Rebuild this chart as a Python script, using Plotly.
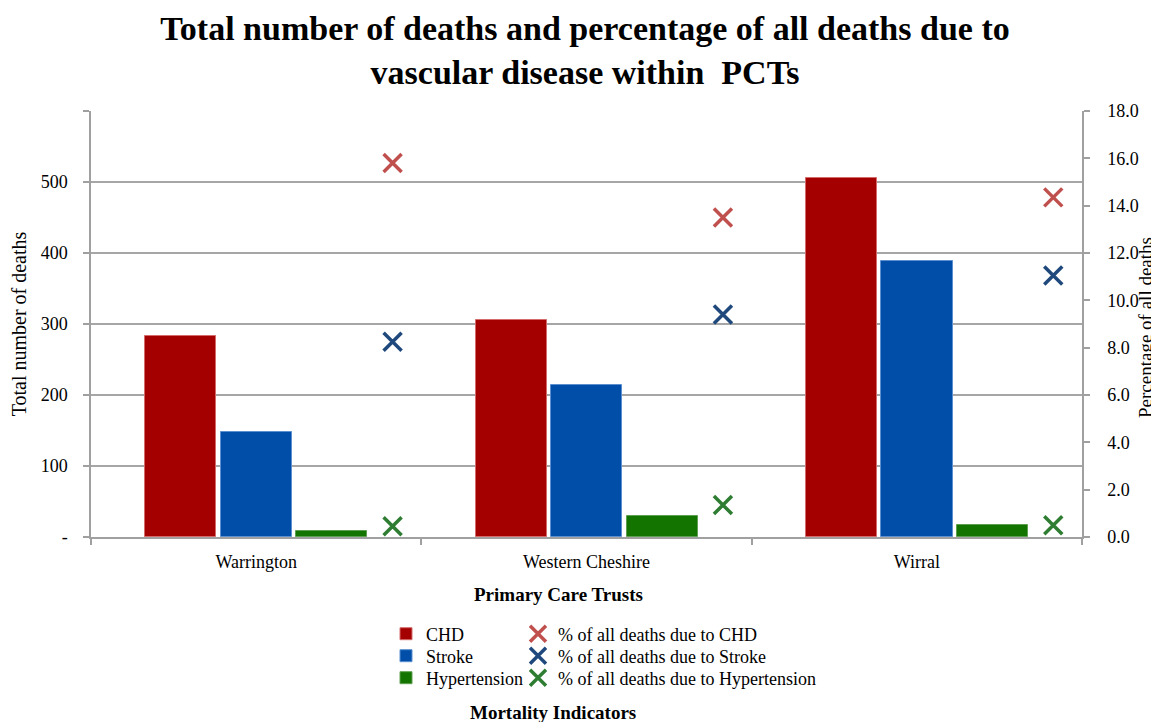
import plotly.graph_objects as go

categories = ["Warrington", "Western Cheshire", "Wirral"]
chd_deaths = [283, 306, 506]
stroke_deaths = [148, 214, 389]
hyp_deaths = [8, 30, 17]
chd_pct = [15.8, 13.5, 14.35]
stroke_pct = [8.25, 9.4, 11.05]
hyp_pct = [0.45, 1.35, 0.5]
left_ticks = [0, 100, 200, 300, 400, 500, 600]
left_tick_text = ["-", "100", "200", "300", "400", "500", ""]

FONT = "Liberation Serif, Times New Roman, serif"
OFF = 8  # default page body margin
W, H = 1159 - OFF, 722 - OFF
# plot area in page pixels: x 91..1082, y 111..537
L = 91 - OFF
T = 111 - OFF
R = W - (1082 - OFF)
B = H - (537 - OFF)
PW, PH = W - L - R, H - T - B
xpos = list(range(len(categories)))


def px_x(px):  # page px -> paper fraction
    return (px - OFF - L) / PW


def px_y(py):
    return (H - B - (py - OFF)) / PH


fig = go.Figure()
bar_specs = [
    ("CHD", chd_deaths, "#A50000", "#D46A6A", -0.336, "legend"),
    ("Stroke", stroke_deaths, "#004EA8", "#5B8FD0", -0.107, "legend2"),
    ("Hypertension", hyp_deaths, "#137500", "#5FA050", 0.122, "legend3"),
]
for name, vals, col, edge, off, lg in bar_specs:
    fig.add_trace(go.Bar(
        x=xpos, y=vals, name=name, width=0.215, offset=off,
        marker=dict(color=col, line=dict(color=edge, width=1)),
        legend=lg, yaxis="y",
    ))

pct_specs = [
    ("% of all deaths due to CHD", chd_pct, "#C0504D", "legend4"),
    ("% of all deaths due to Stroke", stroke_pct, "#1F497D", "legend5"),
    ("% of all deaths due to Hypertension", hyp_pct, "#2E7D32", "legend6"),
]
for name, vals, col, lg in pct_specs:
    fig.add_trace(go.Scatter(
        x=[p + 0.413 for p in xpos], y=vals, name=name, mode="markers",
        marker=dict(symbol="x-thin", size=18, color=col, line=dict(color=col, width=3.5)),
        yaxis="y2", legend=lg,
    ))

rows = [634, 656, 678]
legend_defs = {}
for i, key in enumerate(["legend", "legend2", "legend3"]):
    legend_defs[key] = dict(
        x=px_x(386), y=px_y(rows[i]), xanchor="left", yanchor="middle",
        bgcolor="rgba(0,0,0,0)", font=dict(family=FONT, size=18), itemwidth=30,
    )
for i, key in enumerate(["legend4", "legend5", "legend6"]):
    legend_defs[key] = dict(
        x=px_x(518), y=px_y(rows[i]), xanchor="left", yanchor="middle",
        bgcolor="rgba(0,0,0,0)", font=dict(family=FONT, size=18), itemwidth=30,
    )

fig.update_layout(
    width=W, height=H,
    margin=dict(l=L, r=R, t=T, b=B, autoexpand=False),
    plot_bgcolor="white", paper_bgcolor="white",
    font=dict(family=FONT, size=18, color="#000000"),
    title=dict(
        text="<b>Total number of deaths and percentage of all deaths due to<br>vascular disease within  PCTs</b>",
        x=(585 - OFF) / W, xanchor="center", y=1 - 32 / H, yanchor="middle",
        font=dict(family=FONT, size=34, color="#000000"),
    ),
    xaxis=dict(
        range=[-0.5, 2.5], tickvals=xpos, ticktext=categories, ticks="",
        showgrid=False, zeroline=False, showline=True, linecolor="#A0A0A0", linewidth=1.5,
        tickfont=dict(size=18), ticklabelstandoff=8, tickangle=0,
        minor=dict(tick0=0.5, dtick=1, ticks="outside", ticklen=6, tickcolor="#A0A0A0", tickwidth=1.5, showgrid=False),
    ),
    yaxis=dict(
        range=[0, 600], tickvals=left_ticks, ticktext=left_tick_text,
        ticks="outside", ticklen=6, tickcolor="#A0A0A0", tickwidth=1.5,
        showgrid=True, gridcolor="#A6A6A6", gridwidth=1.5, zeroline=False,
        showline=True, linecolor="#A0A0A0", linewidth=1.5,
        title=dict(text="Total number of deaths", font=dict(size=20), standoff=10),
        tickfont=dict(size=18), ticklabelstandoff=12,
    ),
    yaxis2=dict(
        range=[0, 18], overlaying="y", side="right", dtick=2, tick0=0, tickformat=".1f",
        ticks="outside", ticklen=6, tickcolor="#A0A0A0", tickwidth=1.5,
        showgrid=False, zeroline=False, showline=True, linecolor="#A0A0A0", linewidth=1.5,
        tickfont=dict(size=18), ticklabelstandoff=14,
    ),
    annotations=[
        dict(text="Percentage of all deaths", xref="paper", yref="paper",
             x=px_x(1145), y=px_y(328), xanchor="center", yanchor="middle",
             textangle=-90, showarrow=False, font=dict(family=FONT, size=19)),
        dict(text="<b>Primary Care Trusts</b>", xref="paper", yref="paper",
             x=px_x(558), y=px_y(594), xanchor="center", yanchor="middle",
             showarrow=False, font=dict(family=FONT, size=19)),
        dict(text="<b>Mortality Indicators</b>", xref="paper", yref="paper",
             x=px_x(553), y=px_y(712), xanchor="center", yanchor="middle",
             showarrow=False, font=dict(family=FONT, size=19)),
    ],
    bargap=0, showlegend=True,
    **legend_defs,
)

fig.write_html("out.html")
